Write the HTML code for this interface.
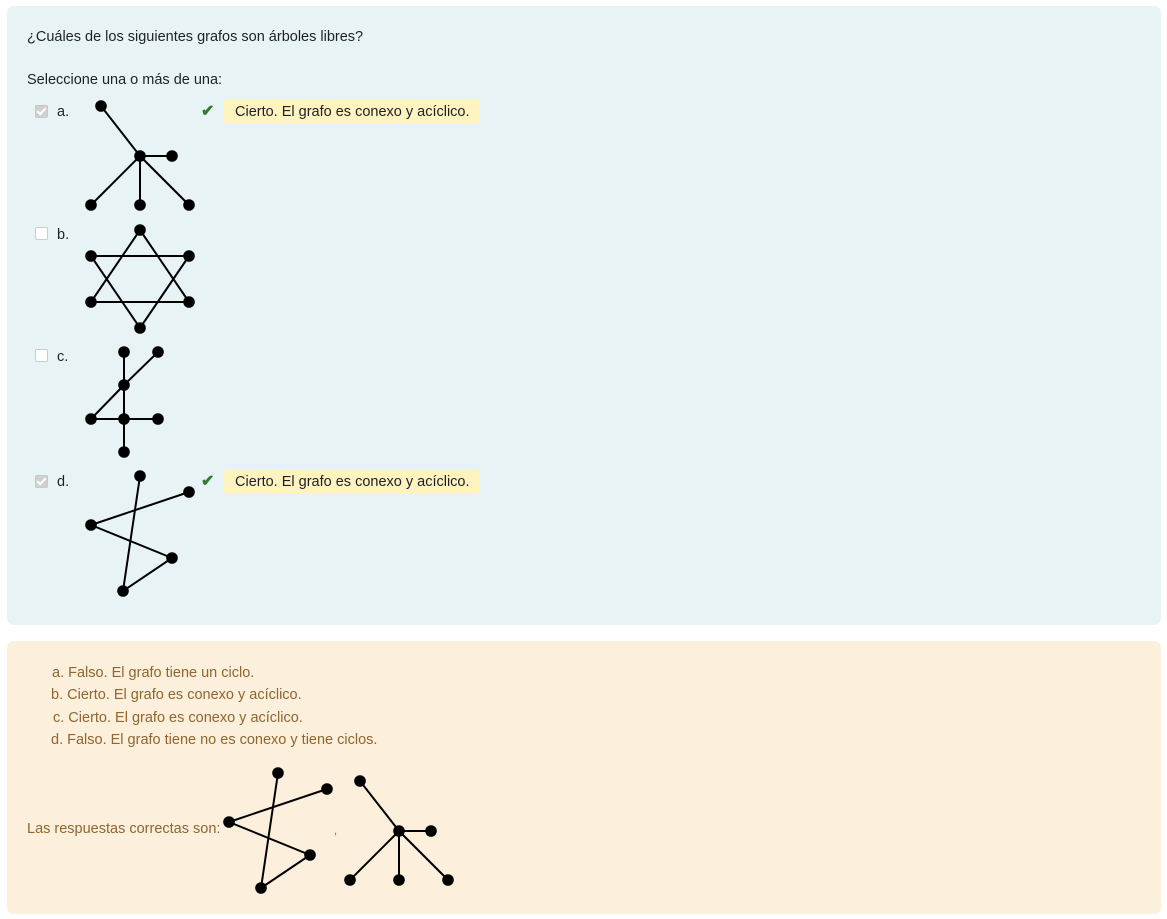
<!DOCTYPE html>
<html><head><meta charset="utf-8">
<style>
body{margin:0;width:1167px;height:919px;background:#fff;font-family:"Liberation Sans",sans-serif;font-size:14.5px;color:#1d2125;position:relative;overflow:hidden}
.box{position:absolute;border-radius:7px}
.t{position:absolute;white-space:nowrap;line-height:18px}
.fb{position:absolute;background:#fff3bf;height:24px;line-height:24px;padding:0 10px 0 12px;width:234px;white-space:nowrap}
.cb{position:absolute;width:11px;height:11px;border:1px solid #ccc;border-radius:2px;background:#fff}
.cb.on{background:#d0d0d0;border-color:#c8c8c8}
.cb.on:after{content:"";position:absolute;left:3px;top:0px;width:3px;height:7px;border:solid #fff;border-width:0 2px 2px 0;transform:rotate(45deg)}
.chk{position:absolute;color:#357a32;font-size:16px;font-weight:bold}
.br{color:#8e662e}
</style></head><body>
<div class="box" style="left:7px;top:6px;width:1154px;height:619px;background:#e7f3f5"></div>
<div class="box" style="left:7px;top:641px;width:1154px;height:273px;background:#fcefdc"></div>

<div class="t" style="left:27px;top:28px">¿Cuáles de los siguientes grafos son árboles libres?</div>
<div class="t" style="left:27px;top:71px">Seleccione una o más de una:</div>

<div class="cb on" style="left:35px;top:105px"></div>
<div class="t" style="left:57px;top:103px">a.</div>
<div class="cb" style="left:35px;top:227px"></div>
<div class="t" style="left:57px;top:226px">b.</div>
<div class="cb" style="left:35px;top:349px"></div>
<div class="t" style="left:57px;top:348px">c.</div>
<div class="cb on" style="left:35px;top:475px"></div>
<div class="t" style="left:57px;top:473px">d.</div>

<div class="chk" style="left:201px;top:101px">✔</div>
<div class="fb" style="left:223px;top:100px">Cierto. El grafo es conexo y acíclico.</div>
<div class="chk" style="left:201px;top:471px">✔</div>
<div class="fb" style="left:223px;top:470px">Cierto. El grafo es conexo y acíclico.</div>

<div class="t br" style="left:52px;top:664px">a. Falso. El grafo tiene un ciclo.</div>
<div class="t br" style="left:51px;top:686px">b. Cierto. El grafo es conexo y acíclico.</div>
<div class="t br" style="left:53px;top:709px">c. Cierto. El grafo es conexo y acíclico.</div>
<div class="t br" style="left:51px;top:731px">d. Falso. El grafo tiene no es conexo y tiene ciclos.</div>
<div class="t br" style="left:27px;top:820px">Las respuestas correctas son:</div>
<div class="t br" style="left:334px;top:822px;font-size:11px">,</div>

<svg id="g" width="1167" height="919" style="position:absolute;left:0;top:0"></svg>
<script>
const graphA_nodes=[[101,106],[140,156],[172,156],[91,205],[140,205],[189,205]];
const graphA_edges=[[0,1],[1,2],[1,3],[1,4],[1,5]];
const graphB_nodes=[[140,230],[91,256],[189,256],[91,302],[189,302],[140,328]];
const graphB_edges=[[0,3],[0,4],[3,4],[5,1],[5,2],[1,2]];
const graphC_nodes=[[124,352],[158,352],[124,385],[91,419],[124,419],[158,419],[124,452]];
const graphC_edges=[[0,2],[1,2],[2,3],[2,4],[3,5],[4,6]];
const graphD_nodes=[[140,476],[189,492],[91,525],[172,558],[123,591]];
const graphD_edges=[[0,4],[1,2],[2,3],[3,4]];
const graphs=[
 ['graph-a',graphA_nodes,graphA_edges,0,0],
 ['graph-b',graphB_nodes,graphB_edges,0,0],
 ['graph-c',graphC_nodes,graphC_edges,0,0],
 ['graph-d',graphD_nodes,graphD_edges,0,0],
 ['answer-graph-d',graphD_nodes,graphD_edges,138,297],
 ['answer-graph-a',graphA_nodes,graphA_edges,259,675]
];
const svg=document.getElementById('g');const NS='http://www.w3.org/2000/svg';
graphs.forEach(([name,nodes,edges,dx,dy])=>{
 const gr=document.createElementNS(NS,'g');
 
 
 edges.forEach(([a,b])=>{
  const l=document.createElementNS(NS,'line');
  
  
  l.setAttribute('x1',nodes[a][0]+dx);l.setAttribute('y1',nodes[a][1]+dy);
  l.setAttribute('x2',nodes[b][0]+dx);l.setAttribute('y2',nodes[b][1]+dy);
  l.setAttribute('stroke','#000');l.setAttribute('stroke-width','2');
  gr.appendChild(l);
 });
 nodes.forEach(([x,y])=>{
  const c=document.createElementNS(NS,'circle');
  
  
  c.setAttribute('cx',x+dx);c.setAttribute('cy',y+dy);c.setAttribute('r','5.8');
  gr.appendChild(c);
 });
 svg.appendChild(gr);
});
</script>
</body></html>
